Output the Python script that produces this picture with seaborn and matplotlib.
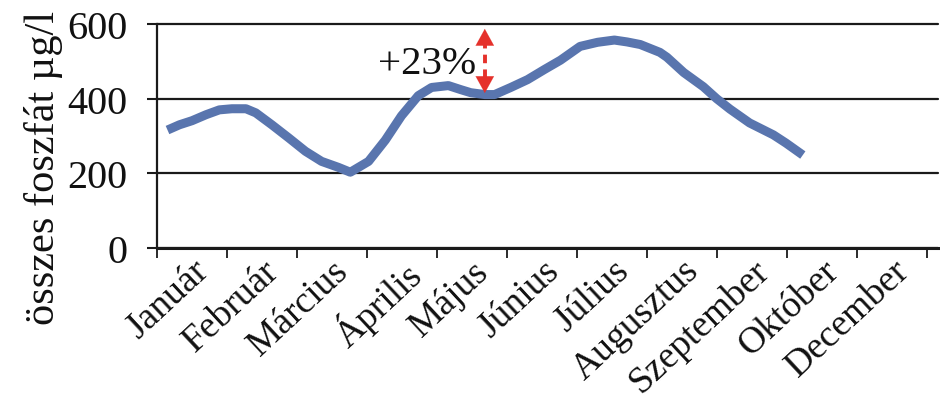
import matplotlib
matplotlib.use("Agg")
import matplotlib.pyplot as plt
import seaborn as sns
import numpy as np

# Month categories shown on the axis (November is not listed)
months = ["Január", "Február", "Március", "Április", "Május", "Június",
          "Július", "Augusztus", "Szeptember", "Október", "December"]

# Sampling times in month units (0 = middle of January) and total phosphate (µg/l)
month_pos = [-0.35, -0.18, 0.00, 0.20, 0.39, 0.57, 0.77, 0.91, 1.14, 1.38,
             1.62, 1.85, 2.09, 2.26, 2.52, 2.76, 2.99, 3.23, 3.42, 3.66,
             3.84, 3.98, 4.18, 4.32, 4.55, 4.79, 5.03, 5.26, 5.54, 5.79,
             6.03, 6.21, 6.40, 6.68, 6.78, 7.02, 7.30, 7.49, 7.68, 7.96,
             8.30, 8.48, 8.72]
phosphate = [316, 330, 341, 357, 370, 373, 373, 362, 330, 295,
             259, 232, 216, 203, 232, 289, 354, 408, 430, 435,
             424, 416, 411, 411, 430, 451, 478, 503, 540, 551,
             557, 552, 545, 524, 511, 470, 432, 400, 372, 335,
             303, 281, 249]

y_ticks = [0, 200, 400, 600]
increase_label = "+23%"
arrow_top = 587

sns.set_style("white")
plt.rcParams["font.family"] = ["Liberation Serif", "DejaVu Serif"]
ink = "#111111"

W, H = 940, 402
fig = plt.figure(figsize=(W / 100, H / 100), dpi=100)
ax = fig.add_axes([157 / W, 1 - 249 / H, (938 - 157) / W, (249 - 25) / H])

line_color = "#5975ae"
sns.lineplot(x=month_pos, y=phosphate, ax=ax, color=line_color,
             linewidth=6.5, solid_capstyle="butt", solid_joinstyle="round")

# y axis
ax.set_ylim(0, 600)
ax.set_yticks(y_ticks)
ax.set_yticklabels([str(v) for v in y_ticks], fontsize=29, color=ink)
ax.yaxis.grid(True, color="#1a1a1a", linewidth=1.6)
for gl in ax.get_ygridlines():
    gl.set_clip_on(False)
ax.tick_params(axis="y", direction="out", length=7.2, width=1.5,
               color="#1a1a1a", pad=14, left=True)

# x axis: category boundaries carry the tick marks, labels sit at centres
ax.set_xlim(-0.5, 10.65)
ax.set_xticks(range(len(months)))
ax.set_xticklabels(months, fontsize=27, rotation=43, ha="right",
                   va="top", rotation_mode="anchor", color=ink)
ax.set_xticks(np.arange(-0.5, len(months), 1.0), minor=True)
ax.tick_params(axis="x", which="major", length=0, pad=3.5)
ax.tick_params(axis="x", which="minor", direction="out", length=7.2,
               width=1.3, color="#1a1a1a", bottom=True)

for side in ("top", "right"):
    ax.spines[side].set_visible(False)
ax.spines["left"].set_color("#1a1a1a")
ax.spines["left"].set_linewidth(1.6)
ax.spines["bottom"].set_color("#1a1a1a")
ax.spines["bottom"].set_linewidth(2.2)
ax.set_xlabel("")
ax.set_ylabel("")

fig.text(54 / W, 1 - 168 / H, "összes foszfát µg/l", rotation=90,
         rotation_mode="anchor", ha="center", va="baseline", fontsize=30.5,
         color=ink)

# rise marker at the May minimum
i_min = int(np.argmin(phosphate[18:26])) + 18
ax_x = month_pos[i_min]
y_low = phosphate[i_min] + 4
red = "#e5312b"
ax.plot([ax_x, ax_x], [y_low + 40, arrow_top - 40], color=red,
        linewidth=2.8, linestyle=(0, (2.2, 1.6)), solid_capstyle="butt")
for tip, base in ((arrow_top, arrow_top - 45), (y_low, y_low + 45)):
    ax.annotate("", xy=(ax_x, tip), xytext=(ax_x, base),
                arrowprops=dict(arrowstyle="-|>,head_length=1.2,head_width=0.66",
                                mutation_scale=10, color=red, lw=0.1,
                                shrinkA=0, shrinkB=0),
                annotation_clip=False)

ax.text(3.35, 468, increase_label, fontsize=29.5, ha="center",
        va="baseline", color=ink)

fig.savefig("out.png", dpi=100)
